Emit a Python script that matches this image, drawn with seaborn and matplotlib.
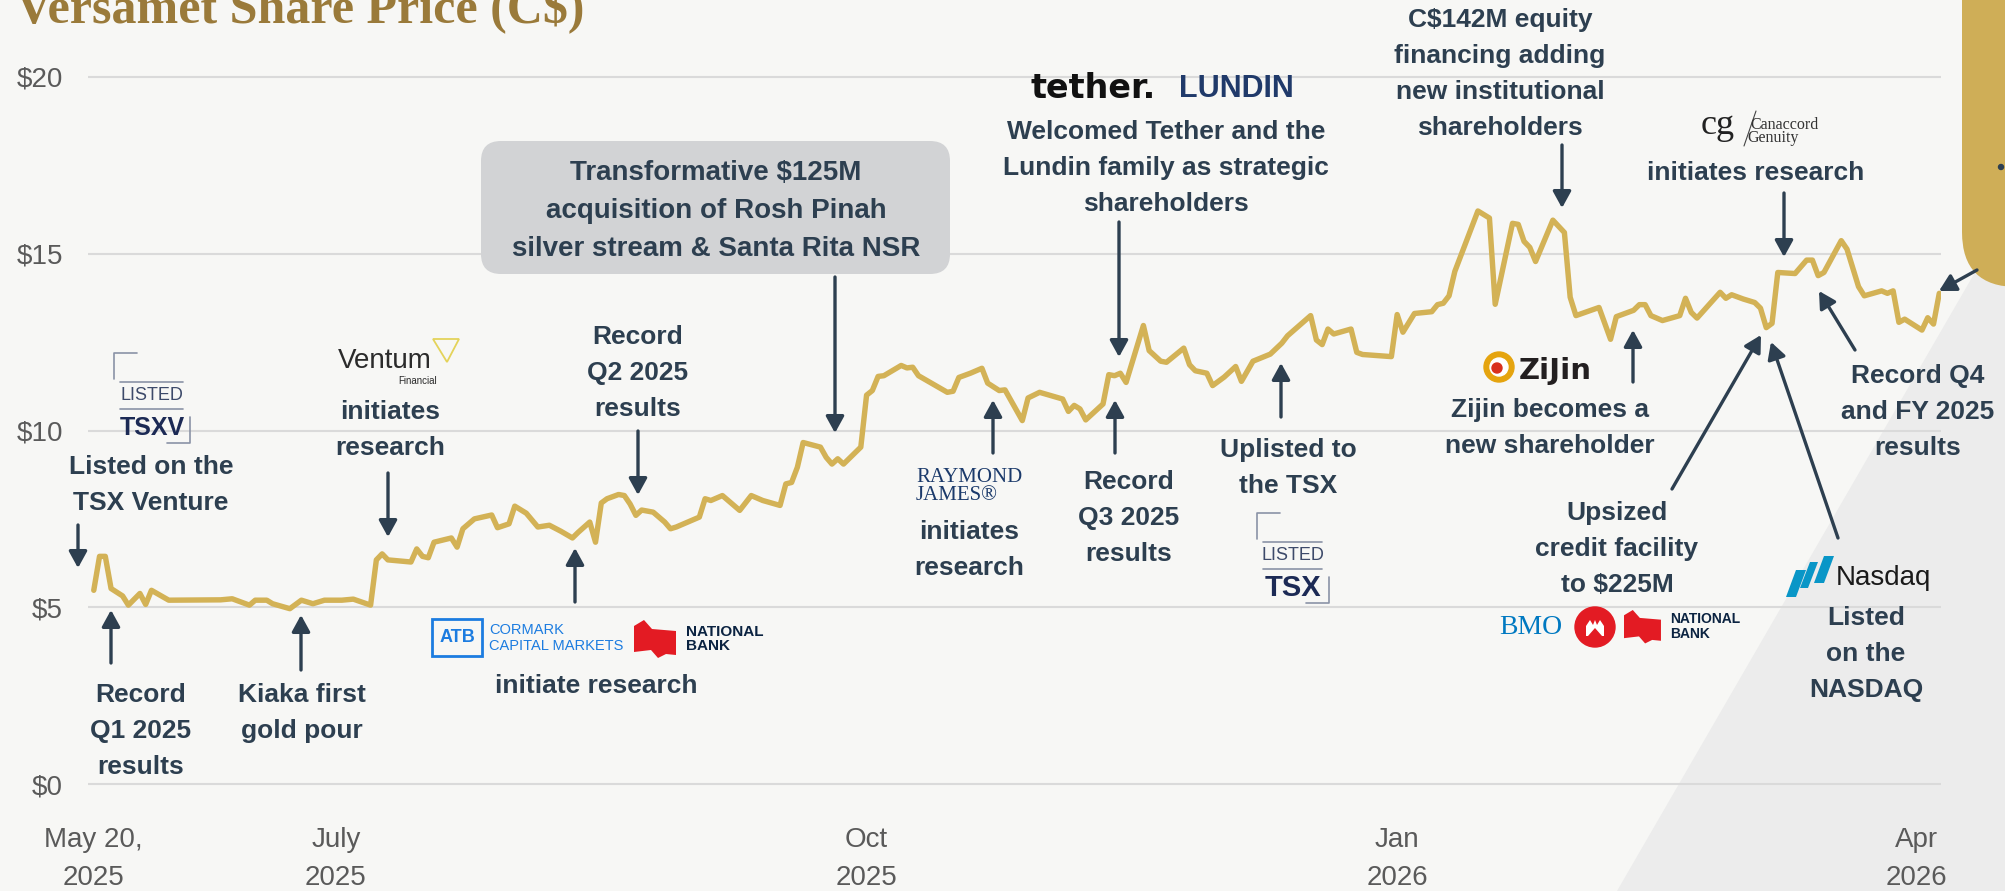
import pandas as pd
import matplotlib
matplotlib.use("Agg")
import matplotlib.pyplot as plt
import matplotlib.dates as mdates
import seaborn as sns
from matplotlib.patches import FancyBboxPatch, FancyArrowPatch, Polygon, Circle, Rectangle

OUTPUT_PATH = "out.png"

LISTING_DATE = "2025-05-20"

# closing prices, keyed by days after the TSXV listing
days_since_listing = [
    0, 1, 2, 3, 5, 6, 8, 9, 10, 13, 22, 24, 27, 28, 30, 31, 34, 36, 38, 40, 43, 45, 48,
    49, 50, 51, 53, 55, 56, 57, 58, 59, 62, 63, 64, 66, 69, 70, 72, 73, 75, 77, 79, 81,
    83, 84, 86, 87, 88, 89, 91, 92, 93, 94, 95, 97, 99, 100, 101,
    105, 106, 107, 109, 112, 114, 116, 119, 120, 121, 122, 123, 126, 127, 128, 129, 130,
    133, 134, 135, 136, 137, 140, 141, 142, 143, 148, 149, 150, 152,
    154, 155, 157, 158, 161, 162, 164, 168, 169, 170, 171, 172, 175, 176, 177, 178, 179,
    182, 183, 185, 186, 189, 190, 191, 193, 194, 196, 198, 199, 201,
    204, 206, 207, 211, 212, 213, 214, 215, 218, 219, 220, 225, 226, 227, 229, 232, 233,
    234, 235, 236, 240, 242, 243, 246, 247, 248, 249, 250, 253, 255,
    256, 257, 261, 263, 264, 267, 268, 269, 270, 272, 275, 276, 277, 278, 282, 283, 284,
    286, 288, 289, 290, 291, 292, 295, 297, 298, 299, 300, 303, 304, 306, 307, 310, 311,
    312, 313, 314, 317, 318, 319, 320,
]
close_price = [
    5.48, 6.44, 6.44, 5.53, 5.32, 5.06, 5.39, 5.08, 5.48, 5.20, 5.21, 5.24, 5.06, 5.20, 5.20, 5.10, 4.96, 5.20, 5.10, 5.20, 5.20, 5.23, 5.06,
    6.34, 6.51, 6.34, 6.31, 6.28, 6.65, 6.44, 6.40, 6.84, 6.96, 6.70, 7.22, 7.50, 7.61, 7.25, 7.36, 7.86, 7.66, 7.27, 7.32, 7.15,
    6.96, 7.12, 7.41, 6.84, 7.95, 8.07, 8.19, 8.16, 7.92, 7.60, 7.75, 7.69, 7.41, 7.22, 7.27,
    7.55, 8.07, 8.02, 8.16, 7.74, 8.16, 8.02, 7.88, 8.49, 8.53, 8.96, 9.66, 9.53, 9.24, 9.05, 9.20, 9.05,
    9.53, 11.00, 11.13, 11.53, 11.55, 11.84, 11.77, 11.79, 11.55, 11.08, 11.11, 11.50, 11.62,
    11.76, 11.34, 11.13, 11.15, 10.28, 10.92, 11.08, 10.89, 10.54, 10.71, 10.61, 10.30, 10.75, 11.58, 11.55, 11.62, 11.36,
    12.97, 12.26, 11.96, 11.93, 12.33, 11.86, 11.69, 11.62, 11.27, 11.51, 11.81, 11.39, 11.96,
    12.16, 12.47, 12.68, 13.25, 12.56, 12.43, 12.87, 12.73, 12.87, 12.21, 12.15, 12.09, 13.28, 12.78, 13.31, 13.36, 13.56,
    13.60, 13.81, 14.50, 16.21, 16.01, 13.57, 15.86, 15.83, 15.35, 15.18, 14.78, 15.95, 15.60,
    13.77, 13.25, 13.48, 12.58, 13.22, 13.40, 13.56, 13.56, 13.25, 13.11, 13.25, 13.74, 13.34, 13.18, 13.91, 13.74, 13.84,
    13.72, 13.62, 13.46, 12.91, 13.03, 14.47, 14.44, 14.82, 14.82, 14.38, 14.47, 15.37, 15.13, 14.07, 13.81, 13.95, 13.88,
    13.95, 13.06, 13.15, 12.84, 13.19, 13.01, 13.88,
]

y_ticks = [0, 5, 10, 15, 20]
y_tick_labels = ["$0", "$5", "$10", "$15", "$20"]
x_tick_dates = ["2025-05-20", "2025-07-01", "2025-10-01", "2026-01-01", "2026-04-01"]
x_tick_labels = ["May 20,\n2025", "July\n2025", "Oct\n2025", "Jan\n2026", "Apr\n2026"]

W, H = 2005, 891
BG = "#F7F7F5"
GOLD = "#D3B256"
PANEL = "#CFAE57"
INK = "#2D3F50"
GRID = "#DADADA"
TICK = "#5A5A5A"
SERIF = ["Liberation Serif", "DejaVu Serif"]
NAVY = "#1C2A55"
BLUE = "#1C7CE0"
RED = "#E31B23"

# (x, y, text) in pixels, y measured from the top
callouts = [
    (151, 485, "Listed on the\nTSX Venture"),
    (141, 731, "Record\nQ1 2025\nresults"),
    (302, 713, "Kiaka first\ngold pour"),
    (390, 430, "initiates\nresearch"),
    (638, 373, "Record\nQ2 2025\nresults"),
    (596, 686, "initiate research"),
    (1166, 168, "Welcomed Tether and the\nLundin family as strategic\nshareholders"),
    (969, 550, "initiates\nresearch"),
    (1129, 518, "Record\nQ3 2025\nresults"),
    (1288, 468, "Uplisted to\nthe TSX"),
    (1500, 74, "C$142M equity\nfinancing adding\nnew institutional\nshareholders"),
    (1756, 173, "initiates research"),
    (1550, 428, "Zijin becomes a\nnew shareholder"),
    (1617, 549, "Upsized\ncredit facility\nto $225M"),
    (1866, 654, "Listed\non the\nNASDAQ"),
    (1918, 412, "Record Q4\nand FY 2025\nresults"),
]
arrows = [
    ((78, 525), (78, 568)), ((111, 663), (111, 610)), ((301, 670), (301, 615)),
    ((388, 473), (388, 537)), ((638, 431), (638, 495)), ((575, 602), (575, 548)),
    ((835, 277), (835, 433)), ((1119, 222), (1119, 357)), ((993, 453), (993, 400)),
    ((1115, 453), (1115, 400)), ((1281, 417), (1281, 363)), ((1562, 145), (1562, 208)),
    ((1784, 193), (1784, 257)), ((1633, 382), (1633, 330)), ((1672, 489), (1761, 335)),
    ((1838, 538), (1771, 342)), ((1855, 350), (1819, 291)), ((1977, 270), (1939, 291)),
]


def pixel_axes(fig, z):
    a = fig.add_axes([0, 0, 1, 1], zorder=z)
    a.set_xlim(0, W)
    a.set_ylim(H, 0)
    a.axis("off")
    return a


def listed_logo(ov, x0, y0, w, word, size):
    c = "#8A93A6"
    ov.plot([x0, x0, x0 + 23], [y0 + 26, y0, y0], color=c, lw=1.2)
    ov.plot([x0 + 6, x0 + w - 7], [y0 + 29, y0 + 29], color=c, lw=1.2)
    ov.text(x0 + w / 2, y0 + 43, "LISTED", ha="center", va="center", size=13,
            color="#3D4A6A", family=["Liberation Sans Narrow", "Liberation Sans"])
    ov.plot([x0 + 6, x0 + w - 7], [y0 + 56, y0 + 56], color=c, lw=1.2)
    ov.text(x0 + w / 2, y0 + 75, word, ha="center", va="center", size=size,
            weight="bold", color=NAVY)
    ov.plot([x0 + w - 23, x0 + w, x0 + w], [y0 + 90, y0 + 90, y0 + 64], color=c, lw=1.2)


def national_bank(ov, x0, y0, s, size):
    flag = [(0, 6), (10, 0), (18, 9), (42, 11), (42, 35), (32, 34), (24, 38), (17, 30), (0, 32)]
    ov.add_patch(Polygon([(x0 + px * s, y0 + py * s) for px, py in flag], closed=True, color=RED, lw=0))
    ov.text(x0 + 52 * s, y0 + 19 * s, "NATIONAL\nBANK", ha="left", va="center", size=size,
            weight="bold", color="#0B2341", linespacing=1.05)


def draw_logos(ov):
    listed_logo(ov, 114, 353, 76, "TSXV", 18)
    listed_logo(ov, 1257, 513, 72, "TSX", 21)

    ov.text(338, 361, "Ventum", ha="left", va="center", size=20, color="#2B2B2B")
    ov.text(437, 381, "Financial", ha="right", va="center", size=7, color="#2B2B2B")
    ov.add_patch(Polygon([(433, 339), (459, 339), (447, 362)], closed=True, fill=False,
                         ec="#E4D35A", lw=1.3))

    ov.add_patch(Rectangle((432, 619), 50, 37, fill=False, ec=BLUE, lw=2))
    ov.text(457, 638, "ATB", ha="center", va="center", size=13, weight="bold", color=BLUE)
    ov.text(489, 638, "CORMARK\nCAPITAL MARKETS", ha="left", va="center", size=10.5,
            color=BLUE, linespacing=1.1)
    national_bank(ov, 634, 620, 1.0, 11)

    ov.text(1031, 89, "tether.", ha="left", va="center", size=24, weight="bold",
            color="#111111", family=["DejaVu Sans"])
    ov.text(1179, 89, "LUNDIN", ha="left", va="center", size=22, weight="bold", color="#203A6A")

    ov.text(916, 477, "RAYMOND", ha="left", va="center", size=15, family=SERIF, color="#1B3A6B")
    ov.text(916, 496, "JAMES®", ha="left", va="center", size=15, family=SERIF, color="#1B3A6B")

    ov.add_patch(Circle((1499, 367), 15, color="#E5A40E"))
    ov.add_patch(Circle((1499, 367), 9, color="white"))
    ov.add_patch(Circle((1497, 368), 5, color="#D9301C"))
    ov.text(1519, 371, "ZiJin", ha="left", va="center", size=21, weight="bold",
            color="#231F20", family=["DejaVu Sans"])

    ov.text(1701, 126, "cg", ha="left", va="center", size=26, family=SERIF, color="#222222")
    ov.plot([1744, 1756], [146, 111], color="#444444", lw=0.8)
    ov.text(1750, 125, "Canaccord", ha="left", va="center", size=11.5, family=SERIF, color="#333333")
    ov.text(1747, 138, "Genuity", ha="left", va="center", size=11.5, family=SERIF, color="#333333")

    ov.text(1499, 627, "BMO", ha="left", va="center", size=20, family=SERIF, color="#0079C1")
    ov.add_patch(Circle((1595, 627), 20, color=RED))
    m = [(-9, 9), (-9, -1), (-5, -7), (-2, -2), (0, -7), (2, -2), (5, -7), (9, -1), (9, 9)]
    ov.add_patch(Polygon([(1595 + a, 627 + b) for a, b in m], closed=True, color="white", lw=0))
    ov.add_patch(Polygon([(1588, 9 + 627), (1595, 1 + 627), (1602, 9 + 627)], closed=True, color=RED, lw=0))
    national_bank(ov, 1624, 610, 0.88, 10)

    nas = "#0996C7"
    ov.add_patch(Polygon([(1786, 597), (1796, 570), (1806, 570), (1796, 597)], closed=True, color=nas, lw=0))
    ov.add_patch(Polygon([(1800, 588), (1810, 562), (1818, 562), (1808, 588)], closed=True, color=nas, lw=0))
    ov.add_patch(Polygon([(1814, 583), (1824, 556), (1834, 556), (1824, 583)], closed=True, color=nas, lw=0))
    ov.text(1836, 578, "Nasdaq", ha="left", va="center", size=20, color="#1A1A1A")


def main():
    sns.set_style("white")
    plt.rcParams["font.family"] = ["Liberation Sans", "DejaVu Sans"]

    start = pd.Timestamp(LISTING_DATE)
    df = pd.DataFrame({
        "date": start + pd.to_timedelta(days_since_listing, unit="D"),
        "price": close_price,
    })

    fig = plt.figure(figsize=(W / 100, H / 100), dpi=100, facecolor=BG)

    # light diagonal wedge in the lower right corner
    back = pixel_axes(fig, 0)
    back.add_patch(Polygon([(1617, 891), (1985, 255), (2005, 255), (2005, 891)],
                           closed=True, color="#ECECEC", lw=0))

    ax = fig.add_axes([88 / W, 1 - 801.7 / H, 1853 / W, (801.7 - 59.3) / H], zorder=1)
    ax.set_facecolor("none")
    sns.lineplot(data=df, x="date", y="price", color=GOLD, linewidth=3.9, ax=ax)
    ax.set_ylim(-0.5, 20.5)
    ax.set_xlim(start - pd.Timedelta(days=1.0), start + pd.Timedelta(days=320.3))
    ax.set_yticks(y_ticks, y_tick_labels)
    ax.set_xticks(mdates.date2num(pd.to_datetime(x_tick_dates)), x_tick_labels)
    ax.grid(axis="y", color=GRID, linewidth=1.5)
    ax.grid(axis="x", visible=False)
    ax.tick_params(length=0, labelsize=20, labelcolor=TICK)
    ax.tick_params(axis="y", pad=18)
    ax.tick_params(axis="x", pad=18)
    for t in ax.get_xticklabels():
        t.set_linespacing(1.62)
    ax.set_xlabel("")
    ax.set_ylabel("")
    sns.despine(ax=ax, left=True, bottom=True)

    ov = pixel_axes(fig, 2)
    ov.text(16, 23, "Versamet Share Price (C$)", ha="left", va="baseline", size=36,
            weight="bold", color="#9A7A3A", family=SERIF)

    ov.add_patch(FancyBboxPatch((1962, -120), 200, 407, boxstyle="round,pad=0,rounding_size=55",
                                color=PANEL, lw=0))
    ov.add_patch(Circle((2001, 167), 2.5, color=INK))

    ov.add_patch(FancyBboxPatch((481, 141), 469, 133, boxstyle="round,pad=0,rounding_size=20",
                                fc="#D2D3D5", lw=0))
    ov.text(716, 211, "Transformative $125M\nacquisition of Rosh Pinah\nsilver stream & Santa Rita NSR",
            ha="center", va="center", size=20, weight="bold", color=INK, linespacing=1.6)

    for x, y, txt in callouts:
        ov.text(x, y, txt, ha="center", va="center", size=19, weight="bold", color=INK,
                linespacing=1.62)

    for tail, tip in arrows:
        ov.add_patch(FancyArrowPatch(tail, tip, arrowstyle="-|>,head_length=1.0,head_width=0.55",
                                     mutation_scale=10, color=INK, lw=2.4, shrinkA=0, shrinkB=0))

    draw_logos(ov)

    fig.savefig(OUTPUT_PATH, dpi=100, facecolor=BG)
    plt.close(fig)


if __name__ == "__main__":
    main()
